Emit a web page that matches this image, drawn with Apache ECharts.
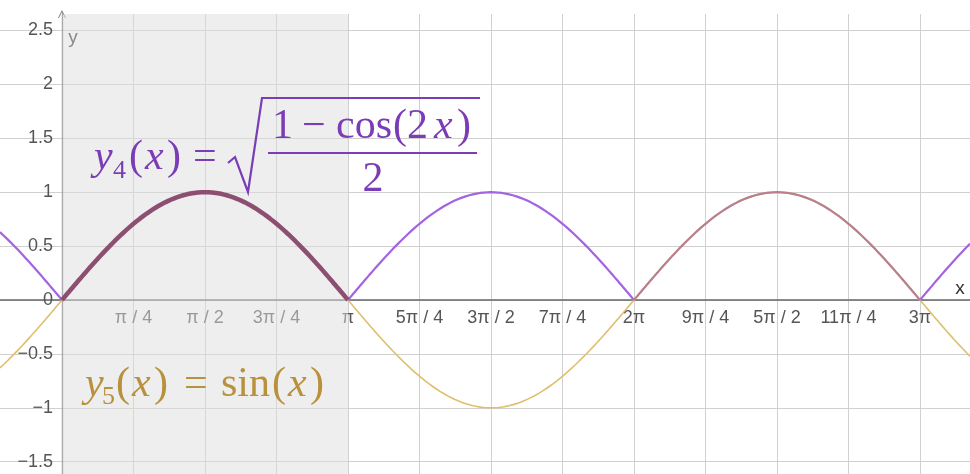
<!DOCTYPE html>
<html>
<head>
<meta charset="utf-8">
<title>y4 and y5</title>
<script src="https://cdn.jsdelivr.net/npm/echarts@6/dist/echarts.min.js"></script>
<style>
  html, body { margin: 0; padding: 0; background: #ffffff; }
  #chart { width: 970px; height: 474px; }
</style>
</head>
<body>
<div id="chart"></div>
<script>
// Visible window of the plane (radians on x, units on y)
const xRange = [-0.681, 9.974];
const yRange = [-1.614, 2.653];

// Grid / tick positions on x: multiples of pi/4
const xGridValues = [0, Math.PI / 4, Math.PI / 2, 3 * Math.PI / 4, Math.PI,
  5 * Math.PI / 4, 3 * Math.PI / 2, 7 * Math.PI / 4, 2 * Math.PI,
  9 * Math.PI / 4, 5 * Math.PI / 2, 11 * Math.PI / 4, 3 * Math.PI];
const xTickLabels = ['', 'π / 4', 'π / 2', '3π / 4', 'π', '5π / 4', '3π / 2',
  '7π / 4', '2π', '9π / 4', '5π / 2', '11π / 4', '3π'];

// Grid / tick positions on y
const yTickValues = [-1.5, -1, -0.5, 0, 0.5, 1, 1.5, 2, 2.5];
const yTickLabels = ['−1.5', '−1', '−0.5', '0', '0.5', '1', '1.5', '2', '2.5'];

// Shaded interval [0, pi]
const shadedSpan = [0, Math.PI];

// Pieces of y4 that are drawn in different styles
const y4SpansPlain = [[xRange[0], 0], [Math.PI, 2 * Math.PI], [3 * Math.PI, xRange[1]]];
const y4SpanShared = [2 * Math.PI, 3 * Math.PI];
const y4SpanBold = [0, Math.PI];

// The two plotted functions
function y4(x) { return Math.sqrt((1 - Math.cos(2 * x)) / 2); }
function y5(x) { return Math.sin(x); }

function sample(fn, a, b) {
  const n = Math.max(2, Math.ceil((b - a) / 0.02));
  const pts = [];
  for (let i = 0; i <= n; i++) {
    const x = a + (b - a) * i / n;
    pts.push([x, fn(x)]);
  }
  return pts;
}

function tickValue(v) {
  if (v && typeof v === 'object') { v = v.value; }
  return Number(v);
}

// Plot geometry used to place the tick labels next to the zero lines
const CHART_W = 970, CHART_H = 474, GRID_TOP = 14;
const plotH = CHART_H - GRID_TOP;
const zeroY = GRID_TOP + plotH * yRange[1] / (yRange[1] - yRange[0]);
const zeroX = CHART_W * (0 - xRange[0]) / (xRange[1] - xRange[0]);

const PURPLE = '#a463e0';
const SHARED = '#b8808d';
const BOLD = '#8c4f72';
const TAN = '#dfbe6c';

const lineBase = {
  type: 'line', showSymbol: false, symbol: 'none', silent: true,
  animation: false, smooth: false, z: 3
};

const series = [];

// Shaded band, drawn above the axes but beneath the curves
series.push({
  type: 'line', data: [], silent: true, animation: false, z: 1,
  markArea: {
    silent: true,
    itemStyle: { color: 'rgba(221,221,221,0.5)' },
    data: [[{ xAxis: shadedSpan[0] }, { xAxis: shadedSpan[1] }]]
  }
});

series.push(Object.assign({}, lineBase, {
  name: 'y5',
  data: sample(y5, xRange[0], xRange[1]),
  lineStyle: { color: TAN, width: 1.6 }
}));

y4SpansPlain.forEach(function (s) {
  series.push(Object.assign({}, lineBase, {
    name: 'y4',
    data: sample(y4, s[0], s[1]),
    lineStyle: { color: PURPLE, width: 2.2 }
  }));
});
series.push(Object.assign({}, lineBase, {
  name: 'y4',
  data: sample(y4, y4SpanShared[0], y4SpanShared[1]),
  lineStyle: { color: SHARED, width: 2.2 }
}));
series.push(Object.assign({}, lineBase, {
  name: 'y4',
  data: sample(y4, y4SpanBold[0], y4SpanBold[1]),
  lineStyle: { color: BOLD, width: 4.5 }
}));

const serif = 'Liberation Serif';
const Y4C = '#7a3db5';
const Y5C = '#b8913c';

function txt(x, y, text, size, color, italic, align) {
  return {
    type: 'text', x: x, y: y, silent: true, z: 50,
    style: {
      text: text, fontFamily: serif, fontSize: size, fill: color,
      fontStyle: italic ? 'italic' : 'normal',
      align: align || 'left', verticalAlign: 'middle'
    }
  };
}

const graphics = [
  // axis names
  { type: 'text', x: 73, y: 38, silent: true, z: 50,
    style: { text: 'y', fontFamily: 'Liberation Sans', fontSize: 19, fill: '#8a8a8a', align: 'center', verticalAlign: 'middle' } },
  { type: 'text', x: 960, y: 289, silent: true, z: 50,
    style: { text: 'x', fontFamily: 'Liberation Sans', fontSize: 19, fill: '#333', align: 'center', verticalAlign: 'middle' } },

  // y4(x) = sqrt((1 - cos(2x)) / 2)
  txt(94, 158, 'y', 42, Y4C, true),
  txt(113, 171, '4', 26, Y4C),
  txt(129, 158, '(', 42, Y4C),
  txt(145, 158, 'x', 42, Y4C, true),
  txt(167, 158, ')', 42, Y4C),
  txt(193, 158, '=', 42, Y4C),
  { type: 'polyline', silent: true, z: 50,
    shape: { points: [[228, 163], [235, 157], [248, 192], [262, 98], [480, 98]] },
    style: { stroke: Y4C, lineWidth: 2.2, fill: null, lineJoin: 'miter' } },
  txt(272, 127, '1', 42, Y4C),
  txt(302, 127, '−', 42, Y4C),
  txt(336, 127, 'cos', 42, Y4C),
  txt(393, 127, '(', 42, Y4C),
  txt(407, 127, '2', 42, Y4C),
  txt(434, 127, 'x', 42, Y4C, true),
  txt(457, 127, ')', 42, Y4C),
  { type: 'line', silent: true, z: 50,
    shape: { x1: 268, y1: 153, x2: 477, y2: 153 },
    style: { stroke: Y4C, lineWidth: 2 } },
  txt(373, 180, '2', 42, Y4C, false, 'center'),

  // y5(x) = sin(x)
  txt(85, 385, 'y', 42, Y5C, true),
  txt(102, 397, '5', 26, Y5C),
  txt(116, 385, '(', 42, Y5C),
  txt(132, 385, 'x', 42, Y5C, true),
  txt(154, 385, ')', 42, Y5C),
  txt(184, 385, '=', 42, Y5C),
  txt(221, 385, 'sin', 42, Y5C),
  txt(272, 385, '(', 42, Y5C),
  txt(288, 385, 'x', 42, Y5C, true),
  txt(310, 385, ')', 42, Y5C)
];

const chart = echarts.init(document.getElementById('chart'), null, { renderer: 'canvas' });
chart.setOption({
  animation: false,
  backgroundColor: '#ffffff',
  grid: { left: 0, right: 0, top: GRID_TOP, bottom: 0, containLabel: false, outerBoundsMode: 'none' },
  xAxis: {
    type: 'value', min: xRange[0], max: xRange[1],
    axisLine: { show: true, onZero: true, lineStyle: { color: '#666', width: 1.5 } },
    axisTick: { show: false, customValues: xGridValues },
    splitLine: { show: true, lineStyle: { color: '#d0d0d0', width: 1 } },
    axisLabel: {
      show: true,
      customValues: xGridValues.slice(1),
      inside: true,
      // labels sit just below the zero line
      margin: Math.round(CHART_H - zeroY - 9),
      verticalAlign: 'top',
      fontFamily: 'Liberation Sans', fontSize: 18, color: '#555',
      formatter: function (v) {
        const val = tickValue(v);
        const k = Math.round(val / (Math.PI / 4));
        return xTickLabels[k] !== undefined ? xTickLabels[k] : String(v);
      }
    }
  },
  yAxis: {
    type: 'value', min: yRange[0], max: yRange[1],
    axisLine: {
      show: true, onZero: true,
      symbol: ['none', 'path://M0,10 L5,0 L10,10 L8.8,10 L5,2.4 L1.2,10 Z'],
      symbolSize: [9, 8],
      lineStyle: { color: '#777', width: 1.3 }
    },
    axisTick: { show: false, customValues: yTickValues },
    splitLine: { show: true, lineStyle: { color: '#d0d0d0', width: 1 } },
    axisLabel: {
      show: true,
      customValues: yTickValues,
      inside: true,
      // labels end just left of the zero line
      margin: Math.round(zeroX - 9),
      align: 'right',
      fontFamily: 'Liberation Sans', fontSize: 18, color: '#555',
      formatter: function (v) {
        const val = tickValue(v);
        const i = yTickValues.findIndex(function (t) { return Math.abs(t - val) < 1e-6; });
        return i >= 0 ? yTickLabels[i] : String(v);
      }
    }
  },
  series: series,
  graphic: graphics
});
</script>
</body>
</html>
